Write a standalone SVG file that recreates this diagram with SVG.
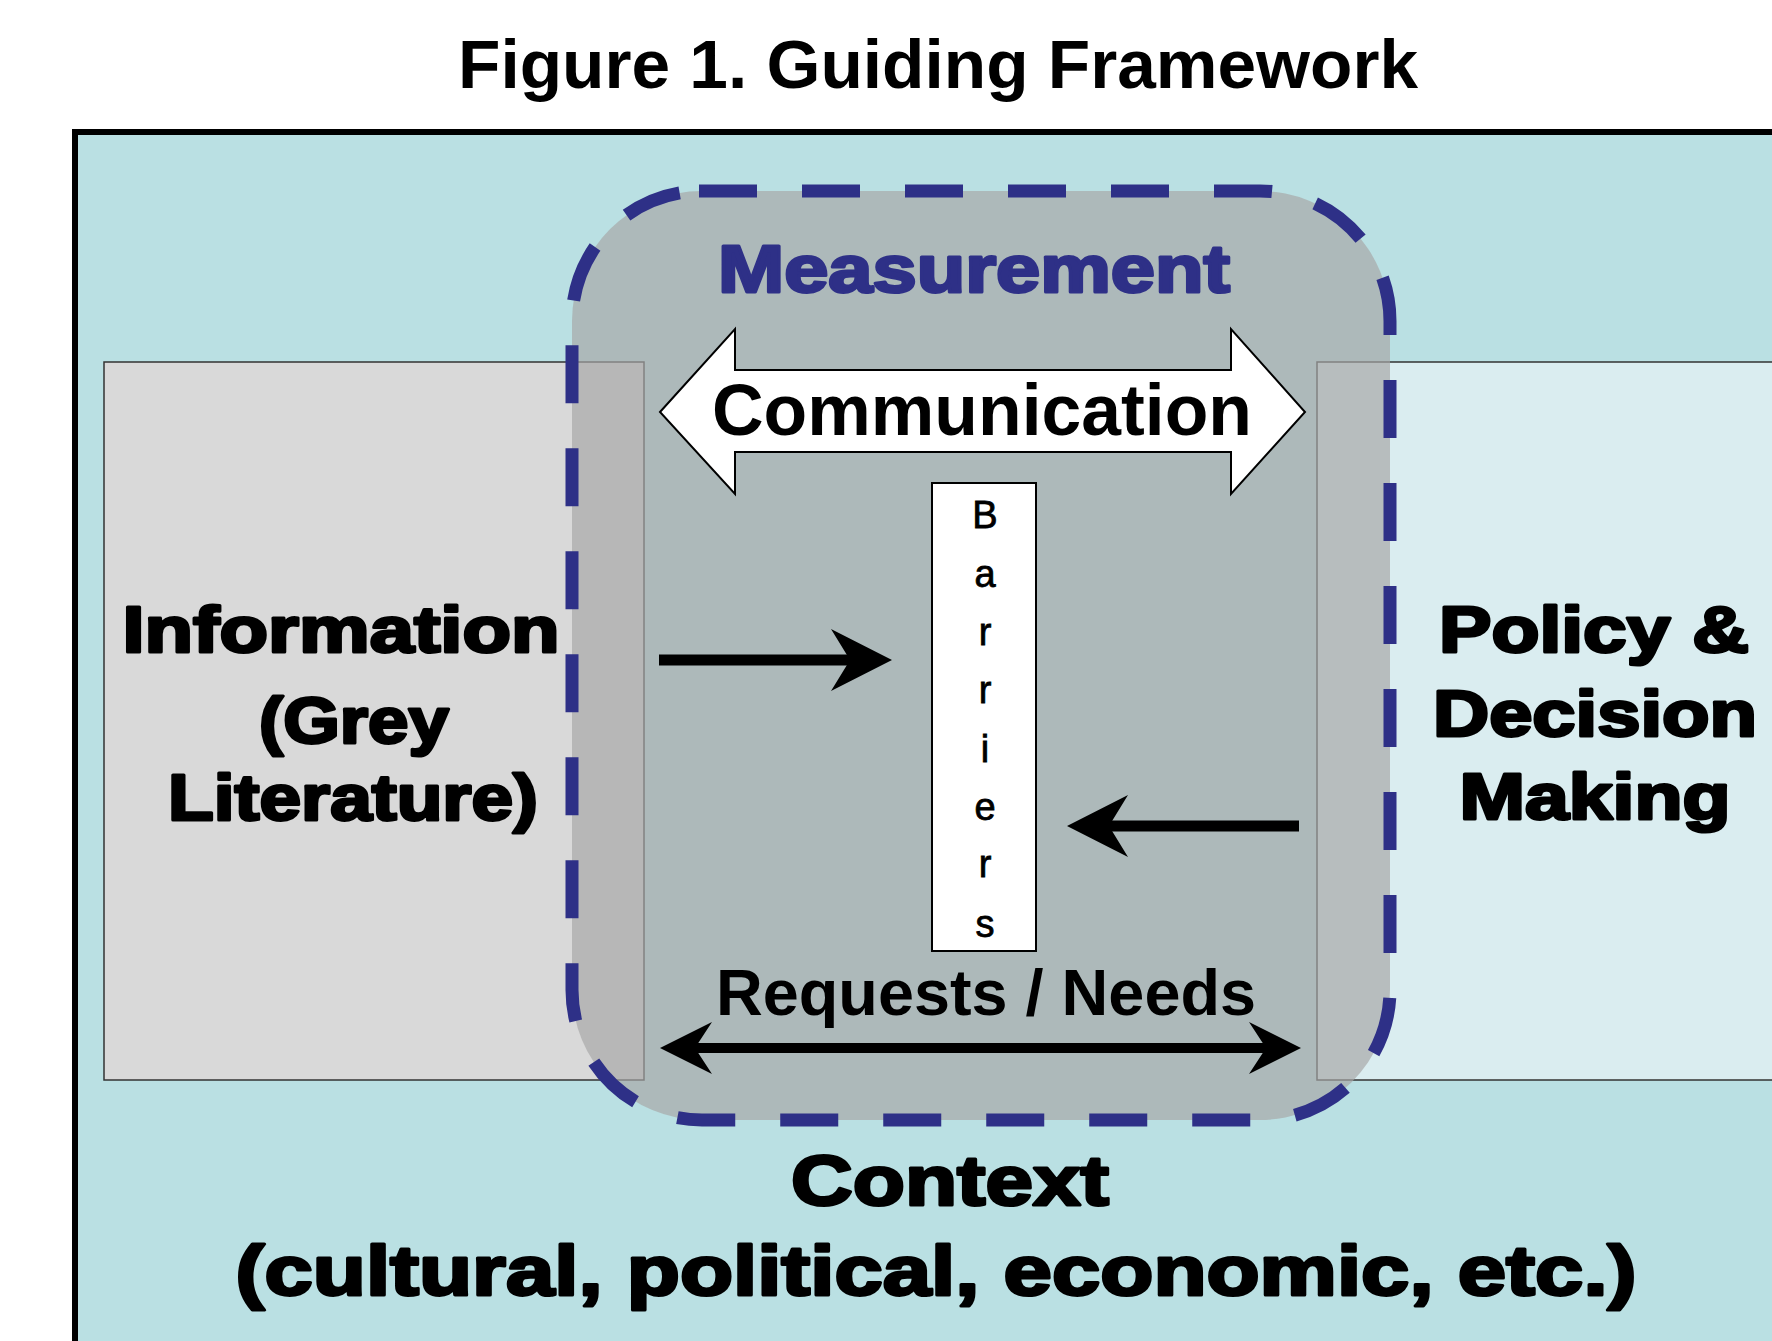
<svg xmlns="http://www.w3.org/2000/svg" width="1772" height="1341" viewBox="0 0 1772 1341">
<defs>
<style>
.title{font-family:"Liberation Sans",Arial,sans-serif;font-weight:bold;font-size:68px;fill:#000;text-anchor:middle}
.heavy{font-family:"Liberation Sans",Arial,sans-serif;font-weight:bold;fill:#000;stroke:#000;stroke-width:3;stroke-linejoin:round;text-anchor:middle}
.bold{font-family:"Liberation Sans",Arial,sans-serif;font-weight:bold;fill:#000;text-anchor:middle}
.letter{font-family:"Liberation Sans",Arial,sans-serif;font-size:38px;fill:#000;stroke:#000;stroke-width:0.8;text-anchor:middle}
.box{stroke:#333;stroke-width:1.5}
.conn{stroke:#000;fill:none}
</style>
<marker id="headL" markerUnits="userSpaceOnUse" viewBox="-25 -32 66 64" refX="0" refY="0" markerWidth="66" markerHeight="64" orient="auto-start-reverse">
<path d="M40,0 L-21,-31 L-2,0 L-21,31 Z" fill="#000"/>
</marker>
<marker id="headS" markerUnits="userSpaceOnUse" viewBox="-25 -27 56 54" refX="0" refY="0" markerWidth="56" markerHeight="54" orient="auto-start-reverse">
<path d="M30,0 L-22,-26 L-5,0 L-22,26 Z" fill="#000"/>
</marker>
</defs>
<rect width="1772" height="1341" fill="#fff"/>
<text class="title" x="938" y="88" textLength="960" lengthAdjust="spacingAndGlyphs">Figure 1. Guiding Framework</text>

<g id="context">
<rect x="75" y="132" width="1760" height="1300" fill="#bae0e3" stroke="#000" stroke-width="6"/>
</g>

<g id="information">
<rect class="box" x="104" y="362" width="540" height="718" fill="#d9d9d9"/>
</g>
<g id="policy">
<rect class="box" x="1317" y="362" width="520" height="718" fill="#daedf0"/>
</g>

<g id="measurement">
<path d="M702,191 L1260,191 A130,130 0 0 1 1390,321 L1390,990 A130,130 0 0 1 1260,1120 L702,1120 A130,130 0 0 1 572,990 L572,321 A130,130 0 0 1 702,191 Z" fill="#a7a7a7" fill-opacity="0.68"/>
<path d="M699,191 L1260,191 A130,130 0 0 1 1390,321 L1390,990 A130,130 0 0 1 1260,1120 L702,1120 A130,130 0 0 1 572,990 L572,321 A130,130 0 0 1 702,191 Z" fill="none" stroke="#2e3087" stroke-width="13" stroke-dasharray="58 45"/>
<text class="heavy" x="974" y="292" font-size="67" fill="#2e3087" style="fill:#2e3087;stroke:#2e3087" textLength="512" lengthAdjust="spacingAndGlyphs">Measurement</text>
</g>

<g id="communication">
<polygon points="660,412 735,329 735,370 1231,370 1231,329 1305,412 1231,494 1231,452 735,452 735,494" fill="#fff" stroke="#000" stroke-width="2"/>
<text class="bold" x="982" y="435" font-size="72" textLength="540" lengthAdjust="spacingAndGlyphs">Communication</text>
</g>

<g id="barriers">
<rect x="932" y="483" width="104" height="468" fill="#fff" stroke="#000" stroke-width="2"/>
<text class="letter" x="985" y="528">B</text>
<text class="letter" x="985" y="587">a</text>
<text class="letter" x="985" y="645">r</text>
<text class="letter" x="985" y="703">r</text>
<text class="letter" x="985" y="762">i</text>
<text class="letter" x="985" y="820">e</text>
<text class="letter" x="985" y="877">r</text>
<text class="letter" x="985" y="937">s</text>
</g>

<g id="connectors">
<line class="conn" x1="659" y1="660" x2="852" y2="660" stroke-width="11" marker-end="url(#headL)"/>
<line class="conn" x1="1299" y1="826" x2="1107" y2="826" stroke-width="11" marker-end="url(#headL)"/>
<line class="conn" x1="690" y1="1048" x2="1271" y2="1048" stroke-width="10" marker-start="url(#headS)" marker-end="url(#headS)"/>
</g>

<g id="labels">
<text class="bold" x="986" y="1015" font-size="65" textLength="540" lengthAdjust="spacingAndGlyphs">Requests / Needs</text>
<text class="heavy" x="341" y="652" font-size="65" textLength="437" lengthAdjust="spacingAndGlyphs">Information</text>
<text class="heavy" x="354" y="743" font-size="65" textLength="190" lengthAdjust="spacingAndGlyphs">(Grey</text>
<text class="heavy" x="353" y="820" font-size="65" textLength="370" lengthAdjust="spacingAndGlyphs">Literature)</text>
<text class="heavy" x="1594" y="652" font-size="64" textLength="310" lengthAdjust="spacingAndGlyphs">Policy &amp;</text>
<text class="heavy" x="1595" y="736" font-size="64" textLength="324" lengthAdjust="spacingAndGlyphs">Decision</text>
<text class="heavy" x="1595" y="819" font-size="64" textLength="271" lengthAdjust="spacingAndGlyphs">Making</text>
<text class="heavy" x="950" y="1205" font-size="71" textLength="318" lengthAdjust="spacingAndGlyphs">Context</text>
<text class="heavy" x="936" y="1295" font-size="71" textLength="1401" lengthAdjust="spacingAndGlyphs">(cultural, political, economic, etc.)</text>
</g>
</svg>
